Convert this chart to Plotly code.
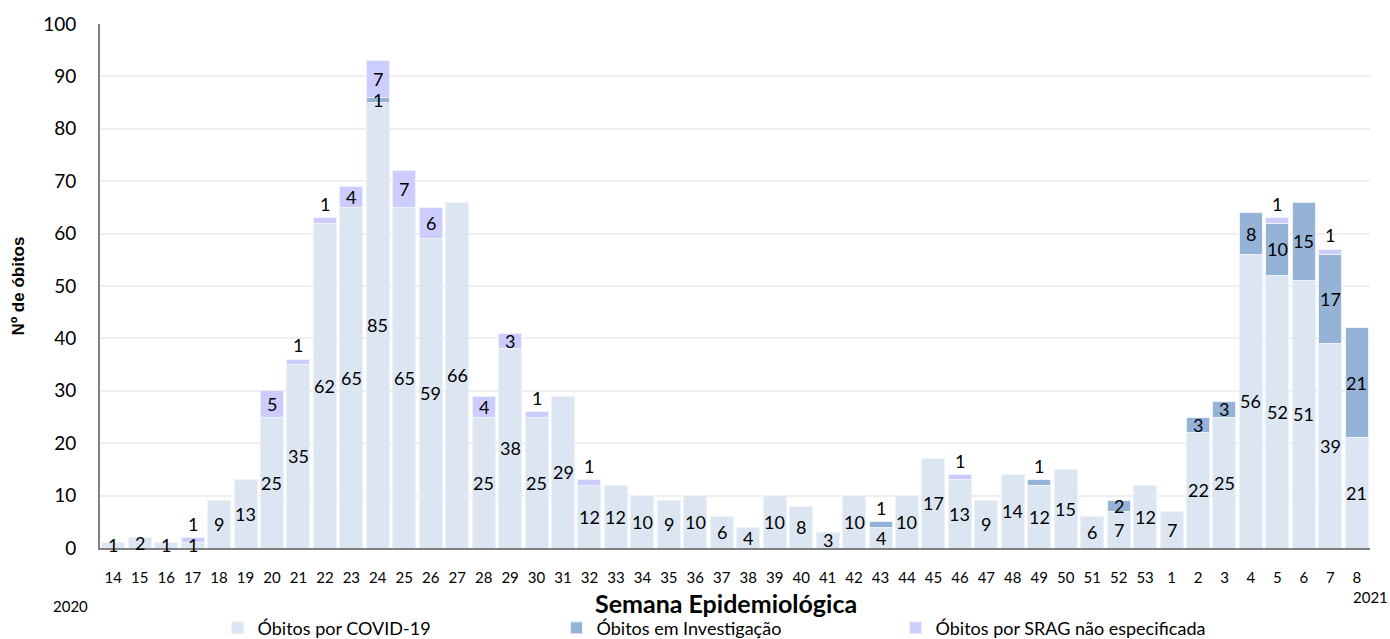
import plotly.graph_objects as go

weeks = [str(w) for w in range(14, 54)] + [str(w) for w in range(1, 9)]
covid = [1, 2, 1, 1, 9, 13, 25, 35, 62, 65, 85, 65, 59, 66, 25, 38, 25, 29, 12, 12,
         10, 9, 10, 6, 4, 10, 8, 3, 10, 4, 10, 17, 13, 9, 14, 12, 15, 6, 7, 12,
         7, 22, 25, 56, 52, 51, 39, 21]
invest_map = {"24": 1, "43": 1, "49": 1, "52": 2, "2": 3, "3": 3, "4": 8, "5": 10,
              "6": 15, "7": 17, "8": 21}
srag_map = {"17": 1, "20": 5, "21": 1, "22": 1, "23": 4, "24": 7, "25": 7, "26": 6,
            "28": 4, "29": 3, "30": 1, "32": 1, "46": 1, "5": 1, "7": 1}
invest = [invest_map.get(w, 0) for w in weeks]
srag = [srag_map.get(w, 0) for w in weeks]

names = ["Óbitos por COVID-19", "Óbitos em Investigação", "Óbitos por SRAG não especificada"]
colors = ["#dce6f2", "#95b3d7", "#ccccff"]
FONT = "Lato"
LABEL_SIZE = 18

fig = go.Figure()
for name, vals, col in zip(names, [covid, invest, srag], colors):
    fig.add_trace(go.Bar(
        x=list(range(len(weeks))), y=vals, name=name,
        marker=dict(color=col, line=dict(color="#eef2f8", width=1)),
        hoverinfo="y",
    ))

annotations = []
series = [covid, invest, srag]
for i in range(len(weeks)):
    base = 0
    segs = []
    for s in series:
        v = s[i]
        if v > 0:
            segs.append((base, v))
        base += v
    for k, (b, v) in enumerate(segs):
        top = (k == len(segs) - 1)
        if k > 0 and v <= 1 and top:
            annotations.append(dict(x=i, y=b + v, xref="x", yref="y", text=str(v),
                                    showarrow=False, yanchor="bottom", yshift=1,
                                    font=dict(size=LABEL_SIZE, color="#000", family=FONT)))
        else:
            annotations.append(dict(x=i, y=b + v / 2, xref="x", yref="y", text=str(v),
                                    showarrow=False, yanchor="middle",
                                    font=dict(size=LABEL_SIZE, color="#000", family=FONT)))

annotations.append(dict(x=-0.0236, y=-0.1107, xref="paper", yref="paper", text="2020",
                        showarrow=False, xanchor="center", yanchor="middle",
                        font=dict(size=15, color="#000", family=FONT)))
annotations.append(dict(x=1.0157, y=-0.0935, xref="paper", yref="paper", text="2021",
                        showarrow=False, xanchor="right", yanchor="middle",
                        font=dict(size=15, color="#000", family=FONT)))
annotations.append(dict(x=0.493, y=-0.105, xref="paper", yref="paper",
                        text="<b>Semana Epidemiológica</b>", showarrow=False,
                        xanchor="center", yanchor="middle",
                        font=dict(size=25, color="#000", family=FONT)))

fig.update_layout(
    width=1390, height=639,
    barmode="stack", bargap=0.13,
    plot_bgcolor="white", paper_bgcolor="white",
    margin=dict(l=100, r=20, t=24, b=91, autoexpand=False),
    font=dict(family=FONT, color="#000"),
    annotations=annotations,
    showlegend=True,
    legend=dict(orientation="h", x=0.1565, xanchor="left", xref="container",
                y=0.017, yanchor="middle", yref="container",
                font=dict(size=18, family=FONT), entrywidth=294, entrywidthmode="pixels",
                traceorder="normal", itemclick=False),
    xaxis=dict(
        type="linear", range=[-0.5, len(weeks) - 0.5], automargin=False,
        tickmode="array", tickvals=list(range(len(weeks))), ticktext=weeks,
        tickfont=dict(size=15, family=FONT), showgrid=False,
        showline=True, linecolor="#808080", linewidth=2, ticks="outside",
        ticklen=15, tickcolor="rgba(0,0,0,0)",
    ),
    yaxis=dict(
        range=[0, 100], dtick=10, tickfont=dict(size=19, family=FONT), automargin=False,
        showgrid=True, gridcolor="#efefef", gridwidth=2,
        showline=True, linecolor="#808080", linewidth=2, zeroline=False,
        title=dict(text="<b>Nº de óbitos</b>",
                   font=dict(size=17, family="Liberation Sans"), standoff=14),
        ticks="outside", ticklen=18, tickcolor="rgba(0,0,0,0)",
    ),
)

fig.write_html("out.html", config={"displayModeBar": False},
               post_script="document.body.style.margin='0';document.body.style.overflow='hidden';")
